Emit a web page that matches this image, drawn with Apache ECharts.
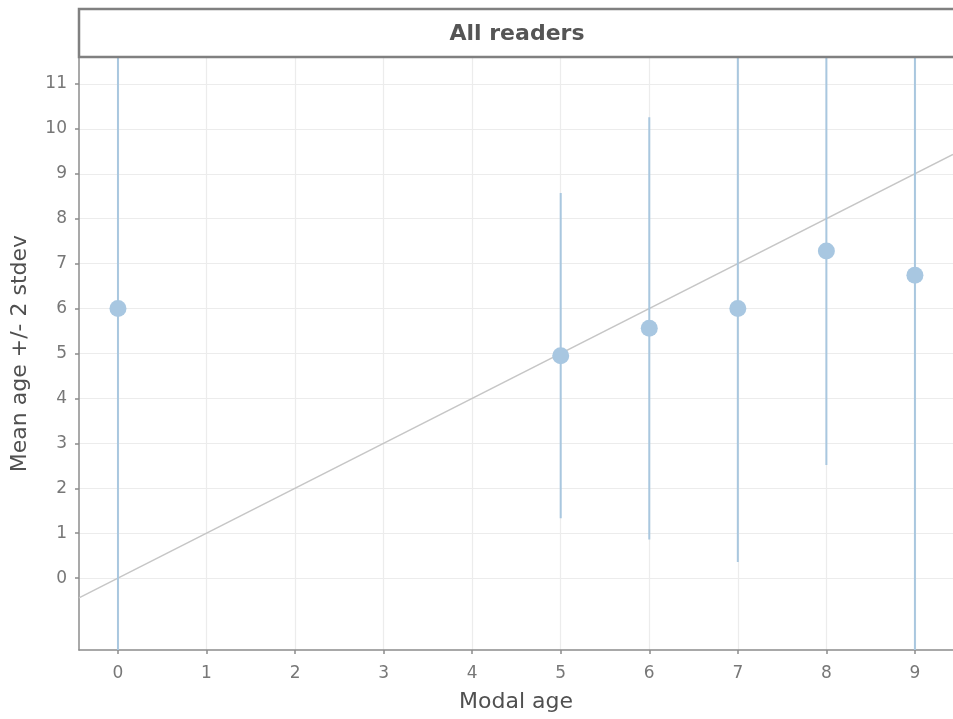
<!DOCTYPE html>
<html>
<head>
<meta charset="utf-8">
<style>
  html, body { margin: 0; padding: 0; background: #ffffff; }
  #chart { width: 953px; height: 719px; }
</style>
<script src="https://cdn.jsdelivr.net/npm/echarts@6/dist/echarts.min.js"></script>
</head>
<body>
<div id="chart"></div>
<script>
// ---- Data ----
const modalAge = [0, 5, 6, 7, 8, 9];
const meanAge  = [6.0, 4.95, 5.56, 6.0, 7.28, 6.74];
const lowerSd  = [-2.4, 1.33, 0.86, 0.36, 2.52, -2.3];
const upperSd  = [14.4, 8.57, 10.26, 11.64, 12.04, 15.8];
const xTicks   = [0, 1, 2, 3, 4, 5, 6, 7, 8, 9];
const yTicks   = [0, 1, 2, 3, 4, 5, 6, 7, 8, 9, 10, 11];
const identityRange = [-0.44, 9.43];
const facetLabel = 'All readers';
const xTitle = 'Modal age';
const yTitle = 'Mean age +/- 2 stdev';

const FONT = '"DejaVu Sans", sans-serif';
const chart = echarts.init(document.getElementById('chart'), null, { renderer: 'canvas' });

const gridLeft = 79, gridTop = 57, gridRight = 0, gridBottom = 69;
const gridWidth = 953 - gridLeft - gridRight;

const option = {
  backgroundColor: '#ffffff',
  animation: false,
  grid: { left: gridLeft, top: gridTop, right: gridRight, bottom: gridBottom, containLabel: false },
  xAxis: {
    type: 'value',
    min: -0.44, max: 9.43,
    name: xTitle,
    nameLocation: 'middle',
    nameGap: 41,
    nameTextStyle: { fontFamily: FONT, fontSize: 22, color: '#505050' },
    axisLine: { show: true, onZero: false, lineStyle: { color: '#8c8c8c', width: 1.5 } },
    axisTick: { show: true, length: 4, customValues: xTicks, lineStyle: { color: '#8c8c8c', width: 1.5 } },
    axisLabel: { customValues: xTicks, margin: 15, fontFamily: FONT, fontSize: 17, color: '#777777' },
    splitLine: { show: true, lineStyle: { color: '#ececec', width: 1.2 } }
  },
  yAxis: {
    type: 'value',
    min: -1.6, max: 11.6,
    name: yTitle,
    nameLocation: 'middle',
    nameGap: 48,
    nameRotate: 90,
    nameTextStyle: { fontFamily: FONT, fontSize: 22, color: '#505050' },
    axisLine: { show: true, onZero: false, lineStyle: { color: '#8c8c8c', width: 1.5 } },
    axisTick: { show: true, length: 4, customValues: yTicks, lineStyle: { color: '#8c8c8c', width: 1.5 } },
    axisLabel: { customValues: yTicks, margin: 12, fontFamily: FONT, fontSize: 17, color: '#777777' },
    splitLine: { show: true, lineStyle: { color: '#ececec', width: 1.2 } }
  },
  graphic: [
    {
      type: 'rect',
      z: 100,
      shape: { x: gridLeft, y: 9, width: gridWidth + 10, height: gridTop - 9 },
      style: { fill: '#ffffff', stroke: '#808080', lineWidth: 2.5 }
    },
    {
      type: 'text',
      z: 101,
      x: gridLeft + (gridWidth + 2) / 2,
      y: (9 + gridTop) / 2 + 1,
      style: {
        text: facetLabel,
        fontFamily: FONT, fontSize: 22, fontWeight: 'bold',
        fill: '#555555', align: 'center', verticalAlign: 'middle'
      }
    }
  ],
  series: [
    {
      type: 'line',
      data: identityRange.map(v => [v, v]),
      symbol: 'none',
      lineStyle: { color: '#c6c6c6', width: 1.5 },
      z: 2,
      silent: true
    },
    {
      type: 'custom',
      clip: true,
      z: 3,
      data: modalAge.map((x, i) => [x, lowerSd[i], upperSd[i]]),
      renderItem: function (params, api) {
        const p1 = api.coord([api.value(0), api.value(1)]);
        const p2 = api.coord([api.value(0), api.value(2)]);
        return {
          type: 'line',
          shape: { x1: p1[0], y1: p1[1], x2: p2[0], y2: p2[1] },
          style: { stroke: '#a9c7df', lineWidth: 2 }
        };
      }
    },
    {
      type: 'scatter',
      z: 4,
      data: modalAge.map((x, i) => [x, meanAge[i]]),
      symbol: 'circle',
      symbolSize: 17,
      itemStyle: { color: '#a8c7e1', opacity: 1 }
    }
  ]
};

chart.setOption(option);
</script>
</body>
</html>
